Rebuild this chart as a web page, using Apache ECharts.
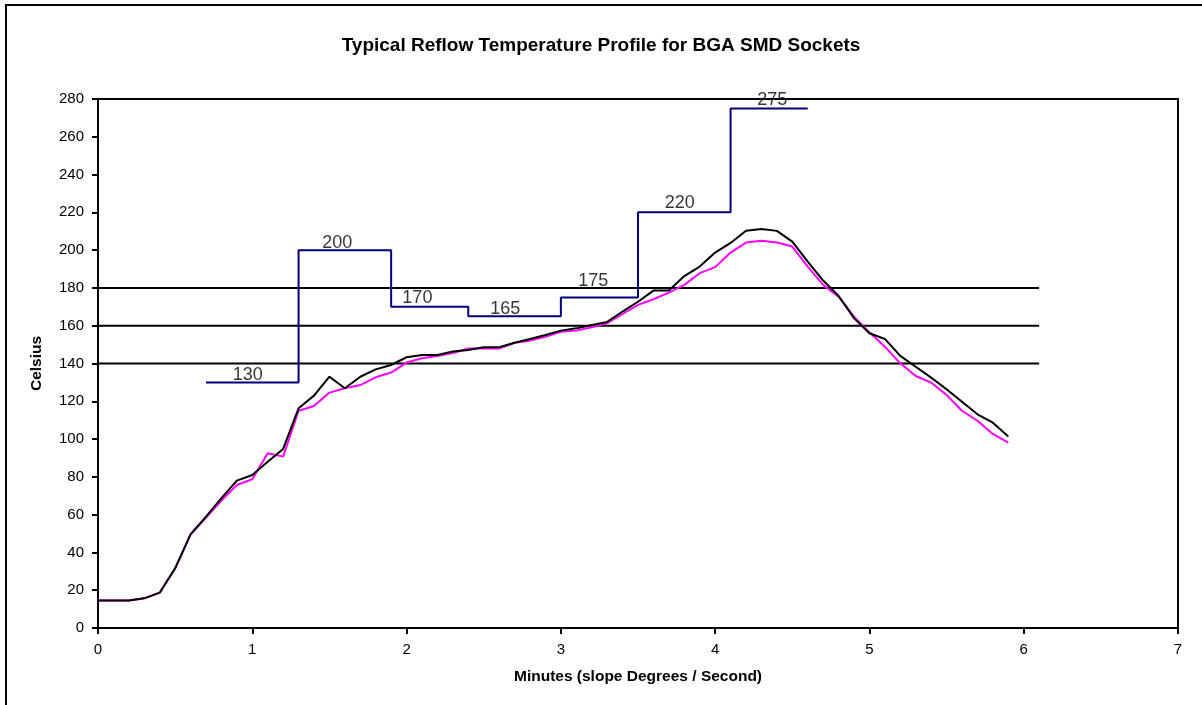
<!DOCTYPE html>
<html>
<head>
<meta charset="utf-8">
<title>Typical Reflow Temperature Profile</title>
<script src="https://cdn.jsdelivr.net/npm/echarts@6/dist/echarts.min.js"></script>
<style>
	html, body { margin: 0; padding: 0; background: #fff; }
	#chart { width: 1202px; height: 705px; }
</style>
</head>
<body>
<div id="chart"></div>
<script>
// minutes, every 0.1
var minutes = [0.0, 0.1, 0.2, 0.3, 0.4, 0.5, 0.6, 0.7, 0.8, 0.9,
	1.0, 1.1, 1.2, 1.3, 1.4, 1.5, 1.6, 1.7, 1.8, 1.9,
	2.0, 2.1, 2.2, 2.3, 2.4, 2.5, 2.6, 2.7, 2.8, 2.9,
	3.0, 3.1, 3.2, 3.3, 3.4, 3.5, 3.6, 3.7, 3.8, 3.9,
	4.0, 4.1, 4.2, 4.3, 4.4, 4.5, 4.6, 4.7, 4.8, 4.9,
	5.0, 5.1, 5.2, 5.3, 5.4, 5.5, 5.6, 5.7, 5.8, 5.9];

var blackTemp = [14.5, 14.5, 14.5, 15.7, 18.7, 31.6, 49.6, 58.9, 68.7, 78,
	81, 88, 94.8, 116.3, 123, 133, 126.9, 133, 136.9, 139.2,
	143.3, 144.5, 144.5, 146.3, 147.2, 148.6, 148.6, 151, 153, 155.1,
	157.4, 158.6, 160.4, 162, 167.5, 172.7, 178.6, 178.6, 186.3, 191.3,
	198.7, 203.8, 210.3, 211.2, 210.2, 204.5, 193.9, 183.9, 175.8, 164,
	156, 153, 144, 138.3, 132.5, 126.4, 119.8, 113.1, 108.7, 101.3];

var pinkTemp = [14.5, 14.5, 14.5, 15.7, 18.7, 31.6, 49.6, 58.5, 67.5, 75.7,
	78.7, 92.5, 90.7, 115, 117.5, 124.6, 126.9, 128.6, 132.7, 135.2,
	140.5, 142.8, 144, 145.6, 147.9, 147.9, 147.9, 151, 152.1, 154.2,
	156.8, 157.4, 159.2, 161.3, 166.2, 171, 174, 177.5, 181.6, 187.8,
	191, 198.7, 204, 205, 204, 201.9, 191.3, 181.6, 175.4, 164.8,
	156.5, 148.9, 140.1, 133.4, 129.9, 123.3, 115, 109.7, 102.7, 98.1];

// zone set points (step line)
var stepStart = [0.7, 1.3, 1.9, 2.4, 3.0, 3.5, 4.1];
var stepEnd = [1.3, 1.9, 2.4, 3.0, 3.5, 4.1, 4.6];
var stepValues = [130, 200, 170, 165, 175, 220, 275];
var stepLabelX = [0.97, 1.55, 2.07, 2.64, 3.21, 3.77, 4.37];
var stepLabelY = [130, 200, 171, 165, 180, 221, 276];

// horizontal reference lines
var limitValues = [140, 160, 180];
var limitFrom = 0;
var limitTo = 6.1;

var xTicks = [0, 7, 1];   // min, max, interval
var yTicks = [0, 280, 20];

var FONT = 'Liberation Sans, Arial, sans-serif';

function pairs(xs, ys) {
	var out = new Array();
	for(var i = 0; i < xs.length; i++) out[i] = [xs[i], ys[i]];
	return out;
}

function stepData() {
	var out = new Array();
	for(var i = 0; i < stepValues.length; i++) {
		out.push([stepStart[i], stepValues[i]]);
		out.push([stepEnd[i], stepValues[i]]);
	}
	return out;
}

function limitSeries() {
	var list = new Array();
	for(var i = 0; i < limitValues.length; i++) {
		list.push({
			name: 'limit' + limitValues[i],
			type: 'line',
			data: [[limitFrom, limitValues[i]], [limitTo, limitValues[i]]],
			symbol: 'none',
			silent: true,
			lineStyle: { color: '#000', width: 2 },
			z: 2
		});
	}
	return list;
}

var labelData = new Array();
for(var i = 0; i < stepValues.length; i++) {
	labelData.push({ value: [stepLabelX[i], stepLabelY[i]], text: String(stepValues[i]) });
}

var mychart = echarts.init(document.getElementById('chart'));
var option = {
	animation: false,
	textStyle: { fontFamily: FONT },
	title: {
		text: 'Typical Reflow Temperature Profile for BGA SMD Sockets',
		left: 'center',
		top: 31,
		textStyle: { fontFamily: FONT, fontSize: 19, fontWeight: 'bold', color: '#000' }
	},
	grid: {
		left: 98, top: 99, right: 24, bottom: 77,
		show: true, borderColor: '#000', borderWidth: 2, backgroundColor: '#fff'
	},
	xAxis: {
		type: 'value',
		min: xTicks[0], max: xTicks[1], interval: xTicks[2],
		name: 'Minutes (slope Degrees / Second)',
		nameLocation: 'middle',
		nameGap: 41,
		nameTextStyle: { fontFamily: FONT, fontSize: 15.5, fontWeight: 'bold', color: '#000' },
		axisLine: { show: true, onZero: false, lineStyle: { color: '#000', width: 2 } },
		axisTick: { show: true, length: 6, lineStyle: { color: '#000', width: 2 } },
		axisLabel: { margin: 14, fontSize: 15, color: '#000', fontFamily: FONT },
		splitLine: { show: false }
	},
	yAxis: {
		type: 'value',
		min: yTicks[0], max: yTicks[1], interval: yTicks[2],
		name: 'Celsius',
		nameLocation: 'middle',
		nameGap: 53,
		nameTextStyle: { fontFamily: FONT, fontSize: 15.5, fontWeight: 'bold', color: '#000' },
		axisLine: { show: true, lineStyle: { color: '#000', width: 2 } },
		axisTick: { show: true, length: 6, lineStyle: { color: '#000', width: 2 } },
		axisLabel: { margin: 14, fontSize: 15, color: '#000', fontFamily: FONT },
		splitLine: { show: false }
	},
	graphic: [{
		type: 'rect',
		shape: { x: 6, y: 5, width: 1240, height: 760 },
		style: { fill: 'none', stroke: '#000', lineWidth: 2 },
		silent: true
	}],
	series: limitSeries().concat([{
		name: 'zone',
		type: 'line',
		data: stepData(),
		symbol: 'none',
		lineStyle: { color: '#000080', width: 2 },
		z: 3
	}, {
		name: 'zoneLabels',
		type: 'scatter',
		data: labelData,
		symbolSize: 0,
		silent: true,
		label: {
			show: true,
			position: 'top',
			distance: -2,
			formatter: function(p) { return p.data.text; },
			fontFamily: FONT,
			fontSize: 18,
			color: '#000'
		},
		z: 6
	}, {
		name: 'pink',
		type: 'line',
		data: pairs(minutes, pinkTemp),
		symbol: 'none',
		lineStyle: { color: '#ff00ff', width: 2 },
		z: 4
	}, {
		name: 'black',
		type: 'line',
		data: pairs(minutes, blackTemp),
		symbol: 'none',
		lineStyle: { color: '#000', width: 2 },
		z: 5
	}])
};
mychart.setOption(option);
</script>
</body>
</html>
